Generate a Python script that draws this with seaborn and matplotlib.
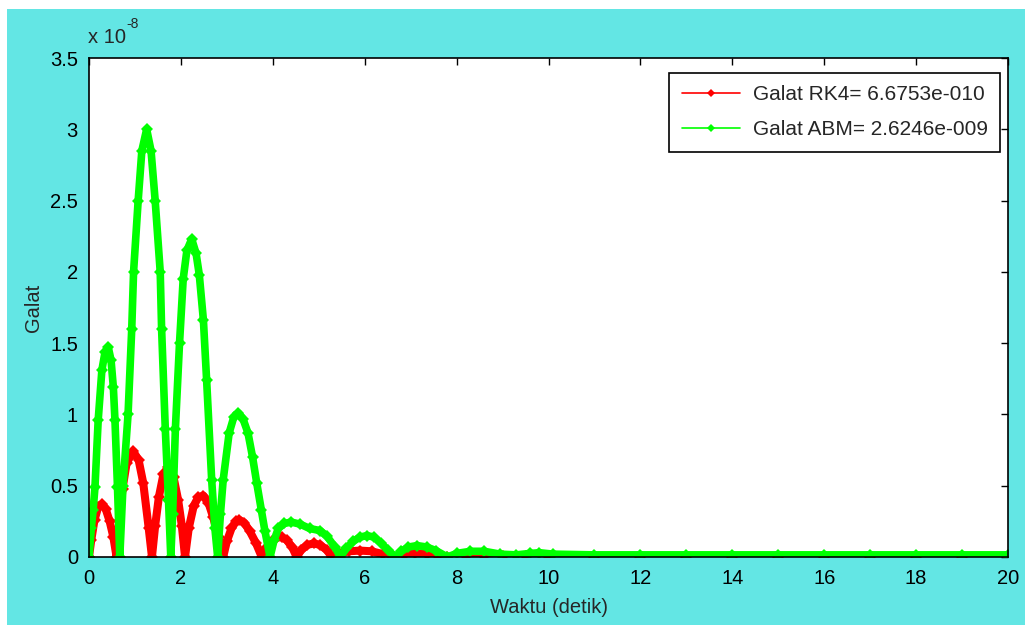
import matplotlib
matplotlib.use("Agg")
import matplotlib.pyplot as plt
from matplotlib.lines import Line2D
from matplotlib.patches import Rectangle
from matplotlib.ticker import FormatStrFormatter
import numpy as np
import pandas as pd
import seaborn as sns

# ---- data (error values in units of 1e-8) ----
rk4_x = [0, 0.05, 0.12, 0.20, 0.28, 0.36, 0.45, 0.53, 0.60,
         0.66, 0.73, 0.82, 0.965, 1.08, 1.18, 1.30, 1.37,
         1.44, 1.52, 1.62, 1.73, 1.84, 1.94, 2.02, 2.09,
         2.17, 2.28, 2.38, 2.49, 2.60, 2.70, 2.82, 2.92,
         3.00, 3.10, 3.20, 3.27, 3.38, 3.50, 3.63, 3.76,
         3.85, 3.98, 4.08, 4.19, 4.30, 4.42, 4.52,
         4.62, 4.75, 4.89, 5.03, 5.17, 5.29,
         5.45, 5.65, 5.90, 6.15, 6.40, 6.60,
         6.85, 7.10, 7.35, 7.60, 7.80,
         8.2, 8.6, 9.0, 9.5, 10, 11, 12, 13, 14, 15, 16, 17, 18, 19, 20]
rk4_y = [0, 0.12, 0.26, 0.35, 0.37, 0.34, 0.25, 0.14, 0.0,
         0.25, 0.48, 0.66, 0.74, 0.68, 0.52, 0.20, 0.0,
         0.22, 0.42, 0.58, 0.63, 0.56, 0.40, 0.22, 0.0,
         0.20, 0.36, 0.42, 0.43, 0.38, 0.28, 0.14, 0.0,
         0.11, 0.20, 0.25, 0.26, 0.24, 0.18, 0.10, 0.0,
         0.06, 0.11, 0.135, 0.14, 0.12, 0.07, 0.0,
         0.05, 0.085, 0.095, 0.085, 0.05, 0.0,
         0.025, 0.04, 0.045, 0.04, 0.02, 0.0,
         0.015, 0.025, 0.02, 0.01, 0.0,
         0.004, 0.006, 0.004, 0.004, 0.003, 0.002, 0.002, 0.001, 0.001,
         0.001, 0.001, 0.001, 0.001, 0.001, 0.001]

abm_x = [0, 0.05, 0.09, 0.13, 0.20, 0.28, 0.35, 0.42, 0.48, 0.53, 0.565, 0.62, 0.67,
         0.74, 0.85, 0.93, 0.97, 1.07, 1.15, 1.255, 1.35, 1.44, 1.55, 1.58, 1.66, 1.73, 1.78,
         1.82, 1.88, 1.97, 2.05, 2.13, 2.235, 2.33, 2.40, 2.49, 2.56, 2.67, 2.74, 2.80,
         2.86, 2.92, 3.05, 3.15, 3.25, 3.35, 3.46, 3.56, 3.65, 3.75, 3.83, 3.94,
         4.03, 4.12, 4.25, 4.40, 4.60, 4.80, 5.03, 5.18, 5.35, 5.47,
         5.60, 5.75, 5.90, 6.05, 6.20, 6.35, 6.50, 6.67,
         6.80, 6.95, 7.14, 7.35, 7.55, 7.80,
         8.0, 8.3, 8.6, 8.95, 9.3, 9.6, 9.8, 10.1,
         11, 12, 13, 14, 15, 16, 17, 18, 19, 20]
abm_y = [0, 0.20, 0.33, 0.49, 0.96, 1.31, 1.44, 1.47, 1.38, 1.19, 0.96, 0.49, 0.0,
         0.50, 1.00, 1.60, 2.00, 2.50, 2.85, 3.00, 2.85, 2.50, 2.00, 1.60, 0.90, 0.40, 0.0,
         0.30, 0.90, 1.50, 1.95, 2.15, 2.23, 2.13, 1.98, 1.66, 1.24, 0.54, 0.20, 0.0,
         0.30, 0.54, 0.87, 0.98, 1.01, 0.97, 0.87, 0.70, 0.52, 0.33, 0.18, 0.0,
         0.12, 0.20, 0.235, 0.245, 0.23, 0.20, 0.185, 0.145, 0.07, 0.0,
         0.06, 0.11, 0.14, 0.15, 0.14, 0.10, 0.05, 0.0,
         0.04, 0.07, 0.08, 0.07, 0.045, 0.0,
         0.025, 0.04, 0.04, 0.02, 0.015, 0.025, 0.03, 0.02,
         0.015, 0.015, 0.015, 0.015, 0.015, 0.015, 0.015, 0.015, 0.015, 0.015]

legend_labels = ["Galat RK4= 6.6753e-010", "Galat ABM= 2.6246e-009"]
x_ticks = list(range(0, 21, 2))
y_ticks = [0, 0.5, 1, 1.5, 2, 2.5, 3, 3.5]

# ---- style ----
sns.set_style("white")
plt.rcParams["font.family"] = ["Liberation Sans", "DejaVu Sans"]

BG = "#63E6E4"
fig = plt.figure(figsize=(10.25, 6.25), dpi=100, facecolor="white")
bg = Rectangle((7 / 1025, 0), 1 - 7 / 1025, (625 - 9) / 625,
               transform=fig.transFigure, facecolor=BG, edgecolor="none",
               zorder=-10)
fig.patches.append(bg)
ax = fig.add_axes([89 / 1025, 68 / 625, (1008 - 89) / 1025, (557 - 58) / 625])
ax.set_zorder(5)
ax.set_facecolor("white")

df_rk4 = pd.DataFrame({"t": rk4_x, "e": rk4_y})
df_abm = pd.DataFrame({"t": abm_x, "e": abm_y})
sns.lineplot(data=df_rk4, x="t", y="e", ax=ax, color="#FF0000", lw=5.8,
             marker="D", markersize=6.5, markeredgewidth=0, sort=False,
             estimator=None, legend=False)
sns.lineplot(data=df_abm, x="t", y="e", ax=ax, color="#00FF00", lw=5.5,
             marker="D", markersize=6.5, markeredgewidth=0, sort=False,
             estimator=None, legend=False)

ax.set_xlim(0, 20)
ax.set_ylim(0, 3.5)
ax.set_xticks(x_ticks)
ax.set_yticks(y_ticks)
ax.yaxis.set_major_formatter(FormatStrFormatter("%g"))
ax.tick_params(direction="in", length=5, width=1, top=True, right=True,
               labelsize=14.5, colors="black")
ax.tick_params(axis="x", pad=9)
ax.tick_params(axis="y", pad=8)
for s in ax.spines.values():
    s.set_visible(True)
    s.set_color("black")
    s.set_linewidth(1.2)

ax.set_xlabel("Waktu (detik)", fontsize=14.5, labelpad=7)
ax.set_ylabel("Galat", fontsize=14.5, labelpad=5)

ax.text(-0.001, 1.03, "x 10", transform=ax.transAxes, fontsize=14.5,
        ha="left", va="baseline")
ax.text(0.041, 1.06, "-8", transform=ax.transAxes, fontsize=10,
        ha="left", va="baseline")

handles = [Line2D([], [], color="#FF0000", lw=1.2, marker="D", markersize=4,
                  markeredgewidth=0),
           Line2D([], [], color="#00FF00", lw=1.2, marker="D", markersize=4,
                  markeredgewidth=0)]
leg = ax.legend(handles, legend_labels, loc="upper right",
                bbox_to_anchor=(1 - 8 / 919, 1 - 15 / 499), borderaxespad=0,
                fontsize=15, frameon=True, fancybox=False, framealpha=1,
                edgecolor="black", handlelength=2.8, borderpad=0.6,
                labelspacing=0.75, handletextpad=0.6)
leg.get_frame().set_linewidth(1.2)

fig.savefig("out.png", dpi=100, facecolor=fig.get_facecolor())
